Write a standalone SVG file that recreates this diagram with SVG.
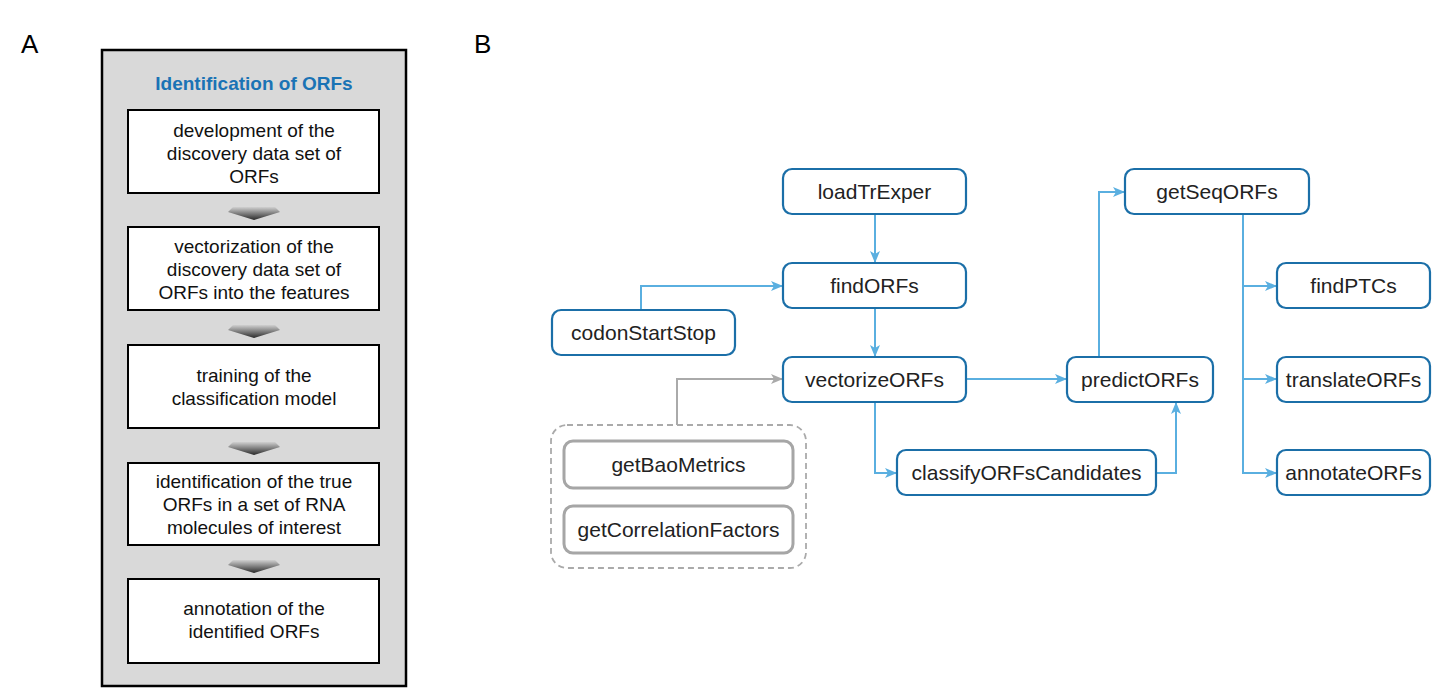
<svg xmlns="http://www.w3.org/2000/svg" width="1433" height="689" viewBox="0 0 1433 689">
<defs>
<style>
.lbl{font-family:"Liberation Sans",Arial,sans-serif;font-size:26px;fill:#000}
.step{fill:#fff;stroke:#000;stroke-width:2}
.stxt{font-family:"Liberation Sans",Arial,sans-serif;font-size:19px;fill:#111;text-anchor:middle}
.title{font-family:"Liberation Sans",Arial,sans-serif;font-size:19px;font-weight:bold;fill:#1a73b5;text-anchor:middle}
.node{fill:#fff;stroke:#1b6fa8;stroke-width:2.2}
.gnode{fill:#fff;stroke:#a6a6a6;stroke-width:3}
.ntxt{font-family:"Liberation Sans",Arial,sans-serif;font-size:21px;fill:#222;text-anchor:middle}
.con{fill:none;stroke:#5aafe0;stroke-width:2}
.gcon{fill:none;stroke:#aaaaaa;stroke-width:2}
</style>
<linearGradient id="ag" x1="0" y1="0" x2="0" y2="1">
<stop offset="0" stop-color="#d0d0d0"/>
<stop offset="1" stop-color="#2a2a2a"/>
</linearGradient>
<marker id="ab" viewBox="0 0 12 10" refX="11" refY="5" markerWidth="12" markerHeight="10" markerUnits="userSpaceOnUse" orient="auto">
<path d="M0,0 L12,5 L0,10 L3,5 z" fill="#5aafe0"/>
</marker>
<marker id="ag2" viewBox="0 0 12 10" refX="11" refY="5" markerWidth="12" markerHeight="10" markerUnits="userSpaceOnUse" orient="auto">
<path d="M0,0 L12,5 L0,10 L3,5 z" fill="#aaaaaa"/>
</marker>
<polygon id="darr" points="-21,0 21,0 26,5 0,13 -26,5" fill="url(#ag)"/>
</defs>
<rect width="1433" height="689" fill="#fff"/>
<text class="lbl" x="21" y="53">A</text>
<text class="lbl" x="474" y="53">B</text>

<g id="panelA">
<rect x="102" y="50" width="304" height="636" fill="#d9d9d9" stroke="#000" stroke-width="2.5"/>
<text class="title" x="254" y="90">Identification of ORFs</text>
<g id="stepA1">
<rect class="step" x="128" y="110" width="251" height="83"/>
<text class="stxt" x="254" y="137">development of the</text>
<text class="stxt" x="254" y="160">discovery data set of</text>
<text class="stxt" x="254" y="183">ORFs</text>
</g>
<use href="#darr" x="254" y="207"/>
<g id="stepA2">
<rect class="step" x="128" y="227" width="251" height="83"/>
<text class="stxt" x="254" y="253">vectorization of the</text>
<text class="stxt" x="254" y="276">discovery data set of</text>
<text class="stxt" x="254" y="299">ORFs into the features</text>
</g>
<use href="#darr" x="254" y="325"/>
<g id="stepA3">
<rect class="step" x="128" y="345" width="251" height="83"/>
<text class="stxt" x="254" y="382">training of the</text>
<text class="stxt" x="254" y="405">classification model</text>
</g>
<use href="#darr" x="254" y="442"/>
<g id="stepA4">
<rect class="step" x="128" y="463" width="251" height="82"/>
<text class="stxt" x="254" y="488">identification of the true</text>
<text class="stxt" x="254" y="511">ORFs in a set of RNA</text>
<text class="stxt" x="254" y="534">molecules of interest</text>
</g>
<use href="#darr" x="254" y="560"/>
<g id="stepA5">
<rect class="step" x="128" y="579" width="251" height="84"/>
<text class="stxt" x="254" y="615">annotation of the</text>
<text class="stxt" x="254" y="638">identified ORFs</text>
</g>
</g>

<g id="connectors">
<path class="con" d="M875,214 V262" marker-end="url(#ab)"/>
<path class="con" d="M641,310 V286 H782" marker-end="url(#ab)"/>
<path class="con" d="M875,308 V356" marker-end="url(#ab)"/>
<path class="gcon" d="M677,425 V379 H782" marker-end="url(#ag2)"/>
<path class="con" d="M966,379 H1066" marker-end="url(#ab)"/>
<path class="con" d="M875,402 V473 H896" marker-end="url(#ab)"/>
<path class="con" d="M1156,473 H1176 V403" marker-end="url(#ab)"/>
<path class="con" d="M1099,357 V192 H1124" marker-end="url(#ab)"/>
<path class="con" d="M1243,214 V473 H1276" marker-end="url(#ab)"/>
<path class="con" d="M1243,286 H1276" marker-end="url(#ab)"/>
<path class="con" d="M1243,379 H1276" marker-end="url(#ab)"/>
</g>

<g id="loadTrExper"><rect class="node" x="783" y="169" width="183" height="45" rx="9"/><text class="ntxt" x="874.5" y="199">loadTrExper</text></g>
<g id="findORFs"><rect class="node" x="783" y="263" width="183" height="45" rx="9"/><text class="ntxt" x="874.5" y="293">findORFs</text></g>
<g id="codonStartStop"><rect class="node" x="552" y="310" width="183" height="45" rx="9"/><text class="ntxt" x="643.5" y="340">codonStartStop</text></g>
<g id="vectorizeORFs"><rect class="node" x="783" y="357" width="183" height="45" rx="9"/><text class="ntxt" x="874.5" y="387">vectorizeORFs</text></g>
<g id="predictORFs"><rect class="node" x="1067" y="357" width="146" height="45" rx="9"/><text class="ntxt" x="1140" y="387">predictORFs</text></g>
<g id="classifyORFsCandidates"><rect class="node" x="897" y="450" width="259" height="45" rx="9"/><text class="ntxt" x="1026.5" y="480">classifyORFsCandidates</text></g>
<g id="getSeqORFs"><rect class="node" x="1125" y="169" width="184" height="45" rx="9"/><text class="ntxt" x="1217" y="199">getSeqORFs</text></g>
<g id="findPTCs"><rect class="node" x="1277" y="263" width="153" height="45" rx="9"/><text class="ntxt" x="1353.5" y="293">findPTCs</text></g>
<g id="translateORFs"><rect class="node" x="1277" y="357" width="153" height="45" rx="9"/><text class="ntxt" x="1353.5" y="387">translateORFs</text></g>
<g id="annotateORFs"><rect class="node" x="1277" y="450" width="153" height="45" rx="9"/><text class="ntxt" x="1353.5" y="480">annotateORFs</text></g>

<g id="metricsGroup">
<rect x="551" y="425" width="255" height="143" rx="16" fill="none" stroke="#aaaaaa" stroke-width="1.8" stroke-dasharray="6,4"/>
<g id="getBaoMetrics"><rect class="gnode" x="564" y="441" width="229" height="47" rx="9"/><text class="ntxt" x="678.5" y="472">getBaoMetrics</text></g>
<g id="getCorrelationFactors"><rect class="gnode" x="564" y="506" width="229" height="47" rx="9"/><text class="ntxt" x="678.5" y="537">getCorrelationFactors</text></g>
</g>
</svg>
